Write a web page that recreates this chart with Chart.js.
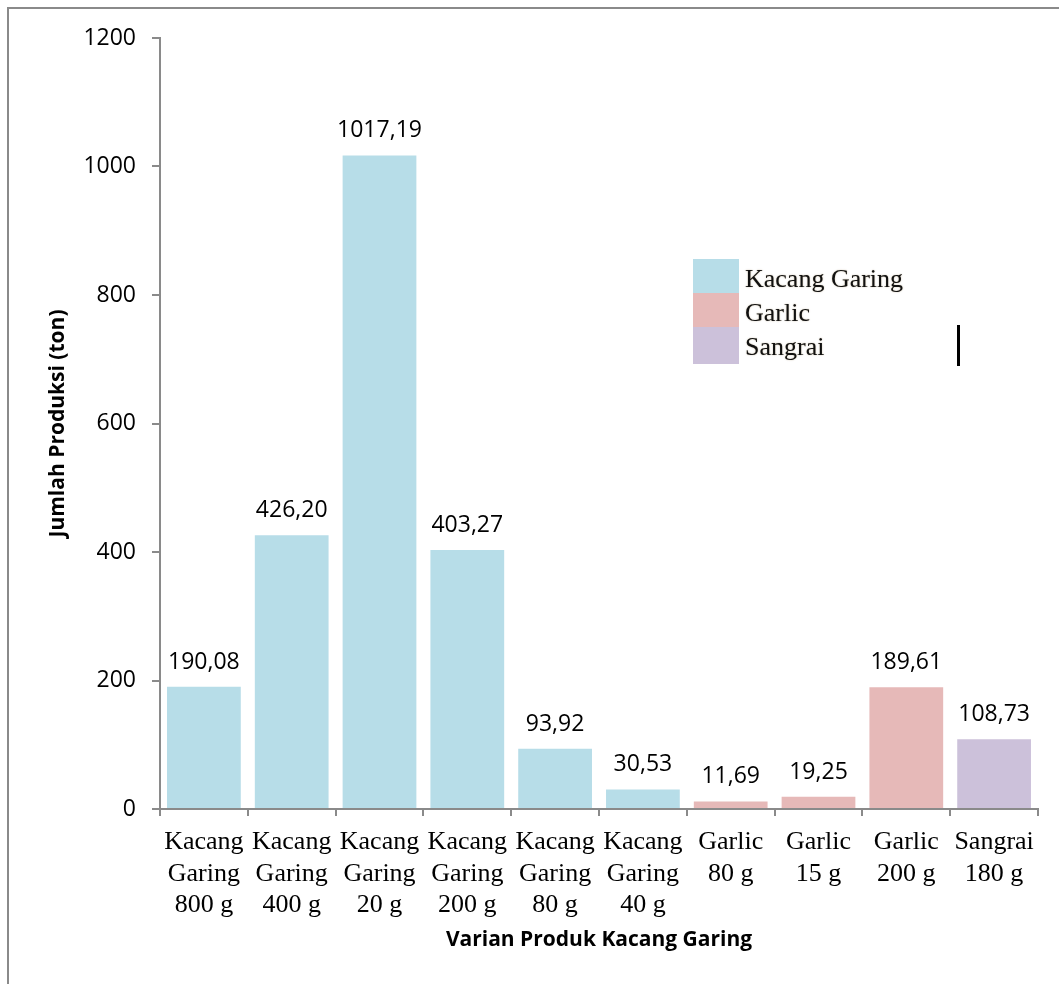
<!DOCTYPE html>
<html>
<head>
<meta charset="utf-8">
<script src="https://cdn.jsdelivr.net/npm/chart.js@4.4.1/dist/chart.umd.min.js"></script>
<style>
  html, body { margin: 0; padding: 0; background: #ffffff; }
  #wrap { position: relative; width: 1059px; height: 985px; }
  canvas { display: block; }
</style>
</head>
<body>
<div id="wrap"><canvas id="chart" width="1059" height="985"></canvas></div>
<script>
// ---- data ----
const categories = [
  ["Kacang", "Garing", "800 g"],
  ["Kacang", "Garing", "400 g"],
  ["Kacang", "Garing", "20 g"],
  ["Kacang", "Garing", "200 g"],
  ["Kacang", "Garing", "80 g"],
  ["Kacang", "Garing", "40 g"],
  ["Garlic", "80 g"],
  ["Garlic", "15 g"],
  ["Garlic", "200 g"],
  ["Sangrai", "180 g"]
];
const values = [190.08, 426.20, 1017.19, 403.27, 93.92, 30.53, 11.69, 19.25, 189.61, 108.73];
const barGroups = [0, 0, 0, 0, 0, 0, 1, 1, 1, 2];
const legendLabels = ["Kacang Garing", "Garlic", "Sangrai"];
const groupColors = ["#b7dde8", "#e6b9b8", "#ccc1da"];
const yTickValues = [0, 200, 400, 600, 800, 1000, 1200];
const yTitle = "Jumlah Produksi (ton)";
const xTitle = "Varian Produk Kacang Garing";

const AXIS_GRAY = "#8a8a8a";
const SANS = "'Open Sans', sans-serif";
const SERIF = "'Liberation Serif', 'Times New Roman', serif";

const barColors = values.map((v, i) => groupColors[barGroups[i]]);

const frameAndExtras = {
  id: "frameAndExtras",
  beforeDraw(chart) {
    const ctx = chart.ctx;
    ctx.save();
    ctx.fillStyle = "#ffffff";
    ctx.fillRect(0, 0, chart.width, chart.height);
    ctx.strokeStyle = AXIS_GRAY;
    ctx.lineWidth = 2;
    ctx.beginPath();
    ctx.moveTo(1059, 8);
    ctx.lineTo(8, 8);
    ctx.lineTo(8, 984);
    ctx.stroke();
    ctx.restore();
  },
  afterDatasetsDraw(chart) {
    const ctx = chart.ctx;
    const meta = chart.getDatasetMeta(0);
    ctx.save();
    ctx.fillStyle = "#000000";
    ctx.font = "23px " + SANS;
    ctx.textAlign = "center";
    ctx.textBaseline = "alphabetic";
    meta.data.forEach((bar, i) => {
      const txt = values[i].toFixed(2).replace(".", ",");
      ctx.fillText(txt, bar.x, bar.y - 18);
    });
    ctx.restore();
  },
  afterDraw(chart) {
    const ctx = chart.ctx;
    ctx.save();
    // legend
    const lx = 693, ly = 259, sw = 46, sh = 34;
    legendLabels.forEach((lab, i) => {
      ctx.fillStyle = groupColors[i];
      ctx.fillRect(lx, ly + i * sh, sw, i === legendLabels.length - 1 ? sh + 3 : sh);
    });
    ctx.font = "26px " + SERIF;
    ctx.fillStyle = "#111111";
    ctx.textAlign = "left";
    ctx.textBaseline = "alphabetic";
    ctx.shadowColor = "rgba(110,80,20,0.45)";
    ctx.shadowBlur = 1.5;
    legendLabels.forEach((lab, i) => {
      ctx.fillText(lab, 745, 287 + i * sh);
    });
    ctx.shadowBlur = 0;
    ctx.shadowColor = "transparent";
    // stray cursor mark
    ctx.fillStyle = "#000000";
    ctx.fillRect(957, 325, 3, 41);
    ctx.restore();
  }
};

new Chart(document.getElementById("chart"), {
  type: "bar",
  data: {
    labels: categories,
    datasets: [{
      data: values,
      backgroundColor: barColors,
      borderWidth: 0,
      barPercentage: 0.84,
      categoryPercentage: 1.0
    }]
  },
  options: {
    responsive: false,
    animation: false,
    devicePixelRatio: 1,
    layout: { padding: { top: 38, right: 21, left: 0, bottom: 0 } },
    plugins: {
      legend: { display: false },
      tooltip: { enabled: false },
      title: { display: false }
    },
    scales: {
      x: {
        offset: true,
        grid: {
          display: true,
          offset: true,
          drawOnChartArea: false,
          drawTicks: true,
          tickLength: 7,
          color: AXIS_GRAY,
          lineWidth: 2
        },
        border: { display: true, color: AXIS_GRAY, width: 2 },
        ticks: {
          color: "#000000",
          font: { family: SERIF, size: 26, lineHeight: 1.2 },
          padding: 11,
          maxRotation: 0,
          minRotation: 0,
          autoSkip: false
        },
        title: {
          display: true,
          text: xTitle,
          color: "#000000",
          font: { family: SANS, size: 21, weight: "bold", lineHeight: 1.2 },
          padding: { top: 0, bottom: 32 }
        },
        afterFit(scale) { scale.height = 176; }
      },
      y: {
        min: 0,
        max: 1200,
        afterBuildTicks(scale) { scale.ticks = yTickValues.map(v => ({ value: v })); },
        grid: {
          display: true,
          drawOnChartArea: false,
          drawTicks: true,
          tickLength: 8,
          color: AXIS_GRAY,
          lineWidth: 2
        },
        border: { display: true, color: AXIS_GRAY, width: 2 },
        ticks: {
          color: "#000000",
          font: { family: SANS, size: 23 },
          padding: 16,
          callback: (v) => String(v)
        },
        title: {
          display: true,
          text: yTitle,
          color: "#000000",
          font: { family: SANS, size: 21, weight: "bold", lineHeight: 1.2 },
          padding: { top: 45, bottom: 0 }
        },
        afterFit(scale) { scale.width = 160; }
      }
    }
  },
  plugins: [frameAndExtras]
});
</script>
</body>
</html>
